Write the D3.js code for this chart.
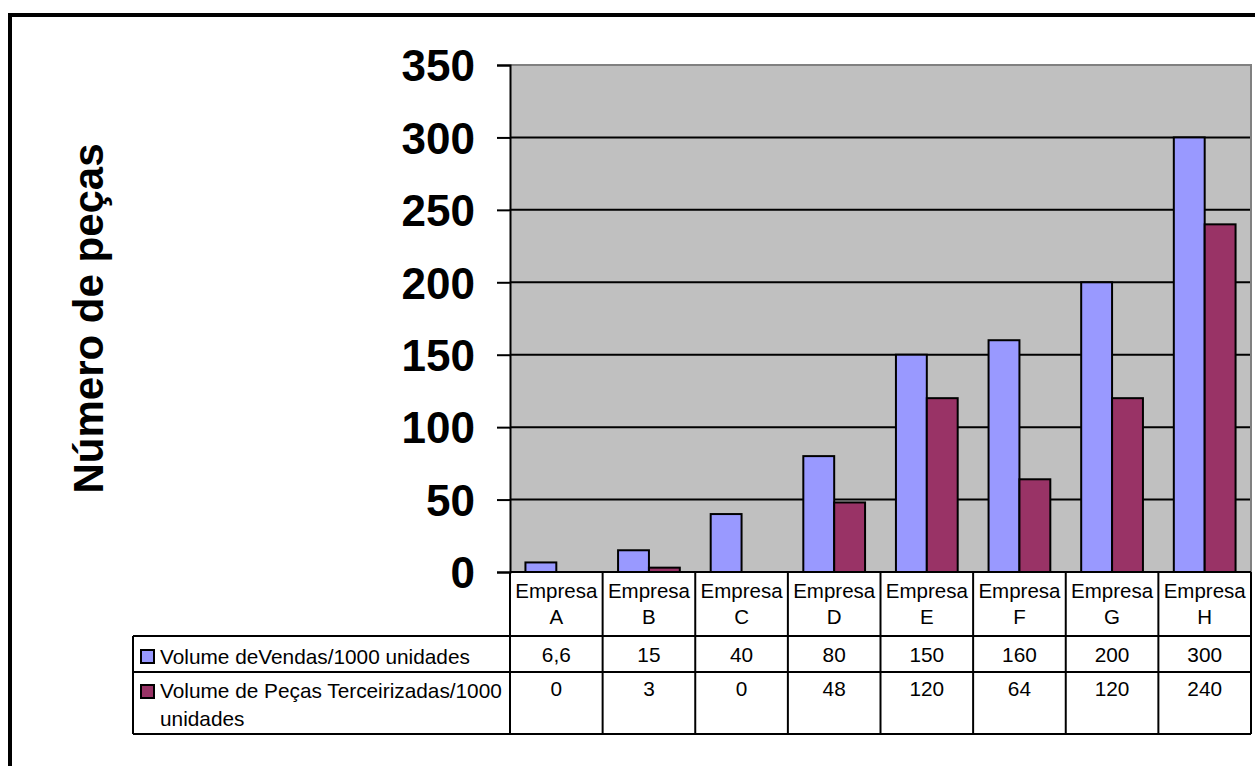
<!doctype html>
<html>
<head>
<meta charset="utf-8">
<title>Número de peças</title>
<script src="https://cdnjs.cloudflare.com/ajax/libs/d3/7.8.5/d3.min.js"></script>
<style>
  body { margin: 0; background: #fff; }
  svg { display: block; font-family: Arial, "Liberation Sans", sans-serif; }
</style>
</head>
<body>
<div id="chart"></div>
<script>
// dados
const empresas = ['A', 'B', 'C', 'D', 'E', 'F', 'G', 'H'];
const series = ['Volume deVendas/1000 unidades', 'Volume de Peças Terceirizadas/1000 unidades'];
const vendas = [6.6, 15, 40, 80, 150, 160, 200, 300];
const terceirizadas = [0, 3, 0, 48, 120, 64, 120, 240];
const vendasLabels = ['6,6', '15', '40', '80', '150', '160', '200', '300'];
const tercLabels = ['0', '3', '0', '48', '120', '64', '120', '240'];
const yTicks = [0, 50, 100, 150, 200, 250, 300, 350];

const cores = ['#9999FF', '#993366'];

const W = 1255, H = 766;
const plot = { left: 510, right: 1251, top: 65, bottom: 572 };

const svg = d3.select('#chart').append('svg')
  .attr('width', W).attr('height', H);

// moldura externa
svg.append('rect')
  .attr('x', 10).attr('y', 15)
  .attr('width', 1300).attr('height', 800)
  .attr('fill', 'none').attr('stroke', '#000').attr('stroke-width', 4);

const x0 = d3.scaleBand().domain(empresas).range([plot.left, plot.right]).padding(0);
const x1 = d3.scaleBand().domain([0, 1]).range([0, x0.bandwidth()]).paddingInner(0).paddingOuter(0.5);
const y = d3.scaleLinear().domain([0, 350]).range([plot.bottom, plot.top]);

// fundo da área de plotagem
svg.append('rect')
  .attr('x', plot.left).attr('y', plot.top)
  .attr('width', plot.right - plot.left).attr('height', plot.bottom - plot.top)
  .attr('fill', '#C0C0C0');

// linhas de grade
svg.append('g').selectAll('line')
  .data(yTicks.filter(d => d > 0 && d < 350))
  .join('line')
  .attr('x1', plot.left).attr('x2', plot.right)
  .attr('y1', d => y(d)).attr('y2', d => y(d))
  .attr('stroke', '#000').attr('stroke-width', 2);

// borda cinza (topo e direita)
svg.append('path')
  .attr('d', `M${plot.left},${plot.top}H${plot.right}V${plot.bottom}`)
  .attr('fill', 'none').attr('stroke', '#808080').attr('stroke-width', 2);

// barras
const dados = empresas.map((e, i) => [vendas[i], terceirizadas[i]]);
const grupos = svg.append('g').selectAll('g')
  .data(dados)
  .join('g')
  .attr('transform', (d, i) => `translate(${x0(empresas[i])},0)`);

grupos.selectAll('rect')
  .data(d => d.map((v, s) => ({ v, s })).filter(o => o.v > 0))
  .join('rect')
  .attr('x', d => x1(d.s))
  .attr('width', x1.bandwidth())
  .attr('y', d => y(d.v))
  .attr('height', d => y(0) - y(d.v))
  .attr('fill', d => cores[d.s])
  .attr('stroke', '#000').attr('stroke-width', 2);

// eixo Y
const yAxis = svg.append('g')
  .attr('transform', `translate(${plot.left},0)`)
  .call(d3.axisLeft(y).tickValues(yTicks).tickSize(13).tickPadding(22).tickFormat(d3.format('d')));
yAxis.select('.domain').attr('stroke', '#000').attr('stroke-width', 2);
yAxis.selectAll('.tick line').attr('stroke', '#000').attr('stroke-width', 2);
yAxis.selectAll('.tick text')
  .attr('font-size', 44).attr('font-weight', 'bold')
  .attr('font-family', 'Arial, "Liberation Sans", sans-serif')
  .attr('fill', '#000').attr('dy', '0.36em');

// título do eixo Y
svg.append('text')
  .attr('transform', `translate(103,${(plot.top + plot.bottom) / 2}) rotate(-90)`)
  .attr('text-anchor', 'middle')
  .attr('font-size', 42).attr('font-weight', 'bold')
  .text('Número de peças');

// tabela de dados
const rows = { head: [572, 636], r1: [636, 672], r2: [672, 734] };
const tableLeft = 133;
const tbl = svg.append('g').attr('stroke', '#000').attr('stroke-width', 2);

// linhas horizontais
tbl.append('line').attr('x1', plot.left).attr('x2', plot.right).attr('y1', rows.head[0]).attr('y2', rows.head[0]);
[rows.r1[0], rows.r2[0], rows.r2[1]].forEach(yy => {
  tbl.append('line').attr('x1', tableLeft).attr('x2', plot.right).attr('y1', yy).attr('y2', yy);
});
// linhas verticais
const colEdges = empresas.map(e => x0(e)).concat([plot.right]);
tbl.selectAll('line.v')
  .data(colEdges)
  .join('line').attr('class', 'v')
  .attr('x1', d => d).attr('x2', d => d)
  .attr('y1', rows.head[0]).attr('y2', rows.r2[1]);
tbl.append('line').attr('x1', tableLeft).attr('x2', tableLeft).attr('y1', rows.r1[0]).attr('y2', rows.r2[1]);

// cabeçalho
const head = svg.append('g').attr('font-size', 20.5).attr('text-anchor', 'middle');
empresas.forEach(e => {
  const cx = x0(e) + x0.bandwidth() / 2;
  head.append('text').attr('x', cx).attr('y', 598).text('Empresa');
  head.append('text').attr('x', cx).attr('y', 624).text(e);
});

// valores
const vals = svg.append('g').attr('font-size', 20.8).attr('text-anchor', 'middle');
empresas.forEach((e, i) => {
  const cx = x0(e) + x0.bandwidth() / 2;
  vals.append('text').attr('x', cx).attr('y', 662).text(vendasLabels[i]);
  vals.append('text').attr('x', cx).attr('y', 696).text(tercLabels[i]);
});

// legenda
const leg = svg.append('g').attr('font-size', 20.8);
leg.append('rect').attr('x', 141).attr('y', 650).attr('width', 13).attr('height', 13)
  .attr('fill', cores[0]).attr('stroke', '#000').attr('stroke-width', 2);
leg.append('text').attr('x', 160).attr('y', 664).text(series[0]);
leg.append('rect').attr('x', 141).attr('y', 685).attr('width', 13).attr('height', 13)
  .attr('fill', cores[1]).attr('stroke', '#000').attr('stroke-width', 2);
leg.append('text').attr('x', 160).attr('y', 698).text('Volume de Peças Terceirizadas/1000');
leg.append('text').attr('x', 160).attr('y', 726).text('unidades');
</script>
</body>
</html>
